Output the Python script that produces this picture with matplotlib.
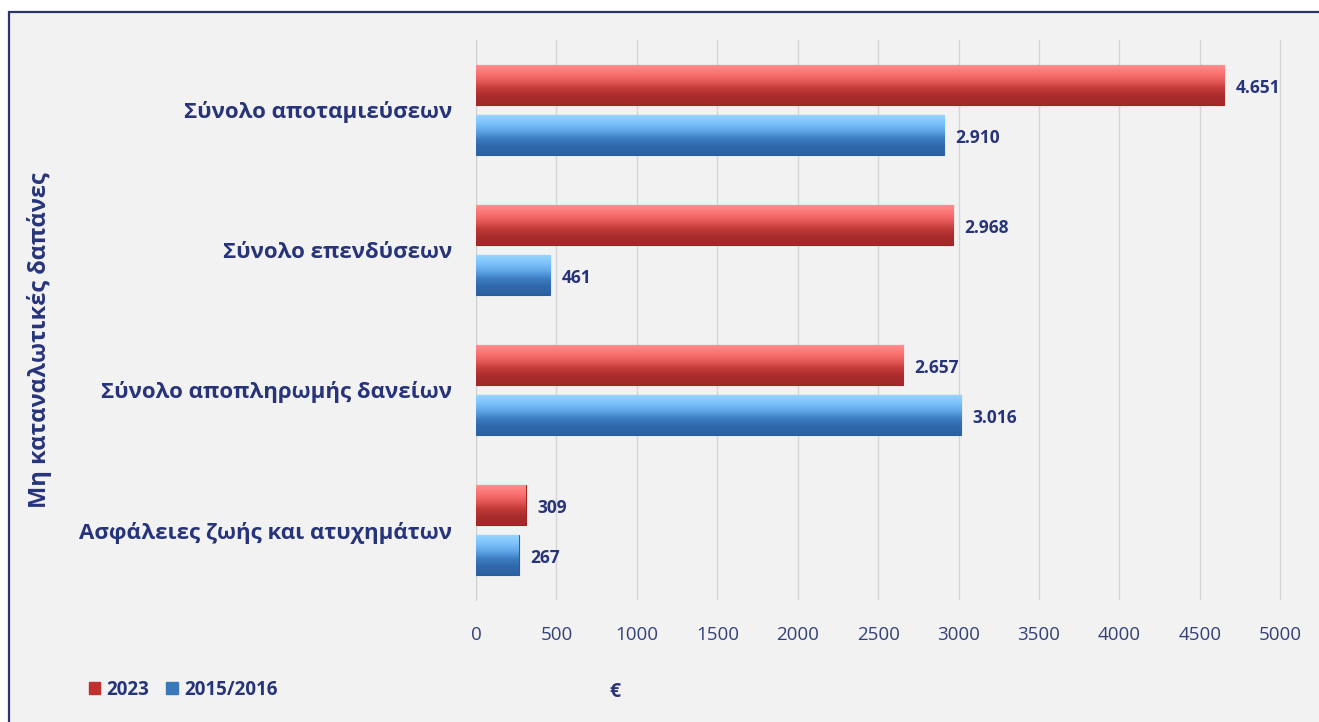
import matplotlib.pyplot as plt
import numpy as np
from matplotlib.patches import Rectangle, Patch
from matplotlib.colors import LinearSegmentedColormap

plt.rcParams['font.family'] = ['Open Sans', 'DejaVu Sans']

categories = ["Σύνολο αποταμιεύσεων", "Σύνολο επενδύσεων",
              "Σύνολο αποπληρωμής δανείων", "Ασφάλειες ζωής και ατυχημάτων"]
values_2023 = [4651, 2968, 2657, 309]
values_2015 = [2910, 461, 3016, 267]
xticks = [0, 500, 1000, 1500, 2000, 2500, 3000, 3500, 4000, 4500, 5000]

NAVY = "#27347a"
BG = "#f2f2f2"

red_grad = LinearSegmentedColormap.from_list(
    "red_grad", ["#ff8e8e", "#fb7373", "#e55a58", "#c13a38", "#a82c2b", "#a22a2a"])
blue_grad = LinearSegmentedColormap.from_list(
    "blue_grad", ["#95d4ff", "#7cc2fb", "#5fa6e6", "#3c7cc0", "#2f68aa", "#2c62a2"])


def fmt(v):
    return f"{v:,}".replace(",", ".")


def shade(ax, bars, cmap):
    # fill each bar with a vertical gradient clipped to the bar
    grad = np.linspace(0, 1, 64).reshape(-1, 1)
    for b in bars:
        x0, y0 = b.get_x(), b.get_y()
        w, hh = b.get_width(), b.get_height()
        im = ax.imshow(grad, cmap=cmap, aspect="auto", interpolation="bilinear",
                       extent=(x0, x0 + w, y0 + hh, y0), zorder=3.5)
        im.set_clip_path(b)


fig = plt.figure(figsize=(13.19, 7.22), dpi=100, facecolor="white")
# outer frame (left and top edges visible, rest cropped)
fig.patches.append(Rectangle((9 / 1319, -0.05), 1.2, 1 - 12 / 722 + 0.05,
                             transform=fig.transFigure, facecolor=BG,
                             edgecolor="#2b3566", linewidth=1.6, zorder=-5))

ax = fig.add_axes([476 / 1319, 1 - 600 / 722, 814 / 1319, 560 / 722])
ax.set_facecolor("none")
ax.set_zorder(2)

y = np.arange(len(categories))
h = 40 / 140
off = 25 / 140

bars_a = ax.barh(y - off, values_2023, height=h, color="#b8302f",
                 edgecolor="#9c2424", linewidth=0.8, zorder=3)
bars_b = ax.barh(y + off, values_2015, height=h, color="#2f6db0",
                 edgecolor="#275d98", linewidth=0.8, zorder=3)
shade(ax, bars_a, red_grad)
shade(ax, bars_b, blue_grad)

for i, (a, b) in enumerate(zip(values_2023, values_2015)):
    ax.text(a + 70, i - off + 0.02, fmt(a), va="center", ha="left",
            fontsize=12.5, fontweight="bold", color=NAVY, zorder=5)
    ax.text(b + 70, i + off + 0.02, fmt(b), va="center", ha="left",
            fontsize=12.5, fontweight="bold", color=NAVY, zorder=5)

ax.set_ylim(len(categories) - 0.5, -0.5)
ax.set_xlim(0, 5060)
ax.set_xticks(xticks)
ax.set_xticklabels([str(t) for t in xticks], fontsize=13.5, color="#34407a")
ax.set_yticks(y)
ax.set_yticklabels(categories, fontsize=16, fontweight="bold", color=NAVY)
ax.tick_params(axis="both", length=0)
ax.tick_params(axis="x", pad=19)
ax.tick_params(axis="y", pad=17)
ax.grid(axis="x", color="#d6d6d6", linewidth=1, zorder=0)
for s in ["top", "right", "bottom"]:
    ax.spines[s].set_visible(False)
ax.spines["left"].set_color("#d0d0d0")

fig.text(40 / 1319, 1 - 340 / 722, "Μη καταναλωτικές δαπάνες", rotation=90,
         ha="center", va="center", fontsize=17, fontweight="bold", color=NAVY)
fig.text(615 / 1319, 1 - 692 / 722, "€", ha="center", va="center",
         fontsize=14, fontweight="bold", color=NAVY)

handles = [Patch(facecolor="#c0312f", edgecolor="#c0312f"),
           Patch(facecolor="#3a78b8", edgecolor="#3a78b8")]
leg = fig.legend(handles, ["2023", "2015/2016"], loc="center left",
                 bbox_to_anchor=(72 / 1319, 1 - 690 / 722), ncol=2, frameon=False,
                 handlelength=0.6, handleheight=0.6, handletextpad=0.35,
                 columnspacing=0.9, prop={"size": 13.5, "weight": "bold"})
for t in leg.get_texts():
    t.set_color(NAVY)

fig.savefig("out.png", dpi=100, facecolor="white")
